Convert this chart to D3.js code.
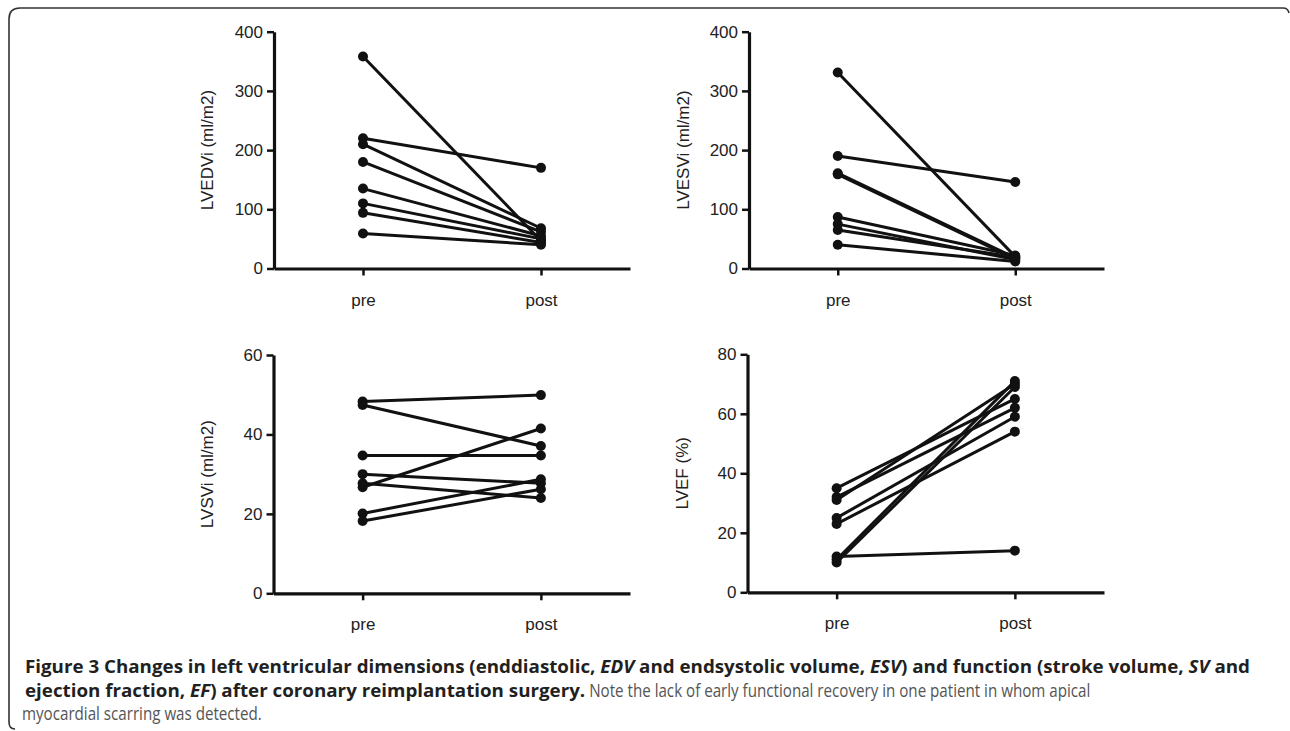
<!DOCTYPE html>
<html>
<head>
<meta charset="utf-8">
<script src="https://cdn.jsdelivr.net/npm/d3@7"></script>
<style>
  body { margin: 0; background: #fff; }
  svg { display: block; }
  .tick text { font-family: "Liberation Sans", Arial, sans-serif; font-size: 17px; fill: #222; }
</style>
</head>
<body>
<div class="demo"></div>
<script>
(function() {
    // groups on the x axis
    var groups = ["pre", "post"];

    // LVEDVi (ml/m2), one value per patient
    var edvPre  = [358, 220, 210, 180, 135, 110, 94, 59];
    var edvPost = [47, 170, 68, 62, 55, 50, 44, 40];

    // LVESVi (ml/m2)
    var esvPre  = [331, 190, 161, 159, 87, 75, 65, 40];
    var esvPost = [20, 146, 18, 16, 22, 15, 19, 12];

    // LVSVi (ml/m2)
    var svPre  = [48.3, 47.4, 34.7, 30.0, 27.7, 26.7, 20.1, 18.2];
    var svPost = [49.9, 37.1, 34.7, 27.7, 24.0, 41.5, 28.7, 26.2];

    // LVEF (%)
    var efPre  = [35, 32, 31, 25, 23, 12, 11, 10];
    var efPost = [65, 62, 70, 59, 54, 14, 71, 69];

    // tick labels
    var volTicks = [0, 100, 200, 300, 400];
    var svTicks = [0, 20, 40, 60];
    var efTicks = [0, 20, 40, 60, 80];

    var width = 1290,
        height = 731;

    var svg = d3.select(".demo").append("svg")
        .attr("width", width)
        .attr("height", height);

    // frame round the figure (only top and left edges show)
    svg.append("path")
        .attr("d", "M15,729 Q9,729 9,722 L9,19 Q9,8 20,8 L1283,8 Q1288,8 1289,13")
        .attr("fill", "none")
        .attr("stroke", "#333")
        .attr("stroke-width", 1.6);

    var panels = [
        { label: "LVEDVi (ml/m2)", pre: edvPre, post: edvPost, ticks: volTicks,
          ax: 274, xEnd: 630, top: 31.7, bottom: 268.5, labelX: 207 },
        { label: "LVESVi (ml/m2)", pre: esvPre, post: esvPost, ticks: volTicks,
          ax: 749, xEnd: 1104, top: 31.7, bottom: 268.5, labelX: 683 },
        { label: "LVSVi (ml/m2)", pre: svPre, post: svPost, ticks: svTicks,
          ax: 273.5, xEnd: 630, top: 355, bottom: 593.3, labelX: 207 },
        { label: "LVEF (%)", pre: efPre, post: efPost, ticks: efTicks,
          ax: 747.5, xEnd: 1104, top: 354.3, bottom: 592.3, labelX: 682 }
    ];

    panels.forEach(function(p) {
        var g = svg.append("g");

        var x = d3.scalePoint()
            .domain(groups)
            .range([p.ax, p.xEnd])
            .padding(0.5);

        var y = d3.scaleLinear()
            .domain([0, d3.max(p.ticks)])
            .range([p.bottom, p.top]);

        // y axis
        var yAxis = g.append("g")
            .attr("transform", "translate(" + p.ax + ",0)")
            .call(d3.axisLeft(y).tickValues(p.ticks).tickSize(7).tickPadding(4).tickSizeOuter(0));
        yAxis.select(".domain").attr("stroke", "#111").attr("stroke-width", 3.2);
        yAxis.selectAll(".tick line").attr("stroke", "#111").attr("stroke-width", 2.5);

        // x axis
        var xAxis = g.append("g")
            .attr("transform", "translate(0," + p.bottom + ")")
            .call(d3.axisBottom(x).tickSize(7).tickPadding(18).tickSizeOuter(0));
        xAxis.select(".domain").attr("stroke", "#111").attr("stroke-width", 3.2);
        xAxis.selectAll(".tick line").attr("stroke", "#111").attr("stroke-width", 2.5);

        // y axis title
        g.append("text")
            .attr("transform", "translate(" + p.labelX + "," + ((p.top + p.bottom) / 2) + ") rotate(-90)")
            .attr("text-anchor", "middle")
            .attr("dy", "0.35em")
            .style("font-family", "Liberation Sans, Arial, sans-serif")
            .style("font-size", "17px")
            .style("fill", "#222")
            .text(p.label);

        var pairs = p.pre.map(function(v, i) { return [v, p.post[i]]; });

        g.selectAll("line.pair")
            .data(pairs)
            .enter().append("line")
            .attr("class", "pair")
            .attr("x1", x("pre"))
            .attr("x2", x("post"))
            .attr("y1", function(d) { return y(d[0]); })
            .attr("y2", function(d) { return y(d[1]); })
            .attr("stroke", "#111")
            .attr("stroke-width", 3);

        g.selectAll("circle.pre")
            .data(p.pre)
            .enter().append("circle")
            .attr("cx", x("pre"))
            .attr("cy", function(d) { return y(d); })
            .attr("r", 5)
            .attr("fill", "#111");

        g.selectAll("circle.post")
            .data(p.post)
            .enter().append("circle")
            .attr("cx", x("post"))
            .attr("cy", function(d) { return y(d); })
            .attr("r", 5)
            .attr("fill", "#111");
    });

    // caption; the original face is condensed, so bold and regular runs
    // are squeezed by their own factors
    var caption = [
        { y: 673, x: 25, parts: [
            ["Figure 3 Changes in left ventricular dimensions (enddiastolic, ", "b"],
            ["EDV", "bi"],
            [" and endsystolic volume, ", "b"],
            ["ESV", "bi"],
            [") and function (stroke volume, ", "b"],
            ["SV", "bi"],
            [" and", "b"]] },
        { y: 696.5, x: 25, parts: [
            ["ejection fraction, ", "b"],
            ["EF", "bi"],
            [") after coronary reimplantation surgery.", "b"],
            [" Note the lack of early functional recovery in one patient in whom apical", "r"]] },
        { y: 720, x: 22, parts: [
            ["myocardial scarring was detected.", "r"]] }
    ];

    function addRun(part) {
        return svg.append("text")
            .attr("x", 0)
            .attr("y", 0)
            .attr("xml:space", "preserve")
            .style("white-space", "pre")
            .style("font-family", "Open Sans, sans-serif")
            .style("font-size", "18px")
            .style("font-weight", part[1] === "r" ? "normal" : "bold")
            .style("font-style", part[1] === "bi" ? "italic" : "normal")
            .style("fill", part[1] === "r" ? "#555" : "#231f20")
            .text(part[0]);
    }

    // measure natural widths to get the squeeze factors
    var boldRun = addRun([caption[0].parts.map(function(d) { return d[0]; }).join(""), "b"]);
    var boldScale = 1232 / boldRun.node().getComputedTextLength();
    boldRun.remove();
    var regRun = addRun(caption[2].parts[0]);
    var regScale = 240 / regRun.node().getComputedTextLength();
    regRun.remove();

    caption.forEach(function(line) {
        var cx = line.x;
        line.parts.forEach(function(part) {
            var t = addRun(part);
            var s = part[1] === "r" ? regScale : boldScale;
            t.attr("transform", "translate(" + cx + "," + line.y + ") scale(" + s + ",1)");
            cx += t.node().getComputedTextLength() * s;
        });
    });

})();
</script>
</body>
</html>
